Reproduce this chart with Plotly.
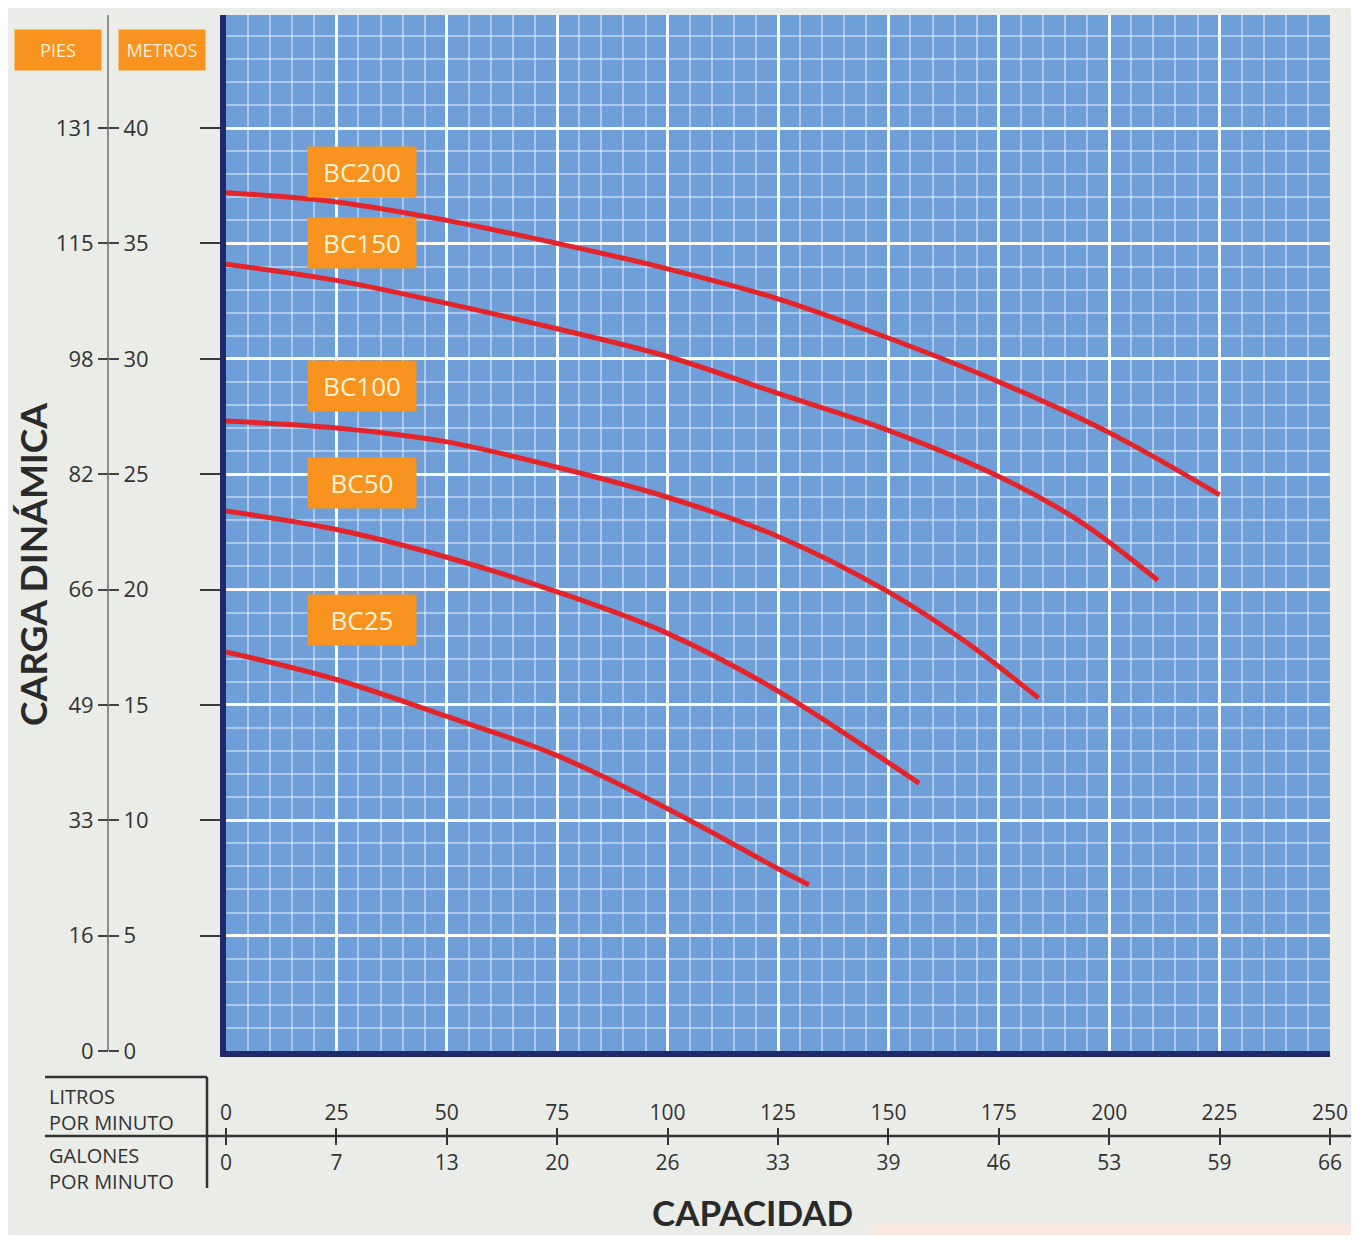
import plotly.graph_objects as go

# ---------------- data (litros por minuto -> metros) ----------------
bc200_lpm = [0, 25, 50, 75, 100, 125, 150, 175, 200, 225]
bc200_m = [37.2, 36.8, 36.0, 35.0, 33.9, 32.6, 30.9, 29.0, 26.8, 24.1]

bc150_lpm = [0, 25, 50, 75, 100, 125, 150, 175, 193, 211]
bc150_m = [34.1, 33.4, 32.4, 31.3, 30.1, 28.5, 26.9, 24.9, 23.0, 20.4]

bc100_lpm = [0, 25, 50, 75, 100, 125, 150, 167, 184]
bc100_m = [27.3, 27.0, 26.4, 25.3, 24.0, 22.3, 19.9, 17.8, 15.3]

bc50_lpm = [0, 25, 50, 75, 100, 125, 150, 157]
bc50_m = [23.4, 22.6, 21.4, 19.9, 18.1, 15.6, 12.5, 11.6]

bc25_lpm = [0, 25, 50, 75, 100, 125, 132]
bc25_m = [17.3, 16.1, 14.5, 12.8, 10.5, 7.9, 7.2]

series_names = ["BC200", "BC150", "BC100", "BC50", "BC25"]

metros_ticks = [0, 5, 10, 15, 20, 25, 30, 35, 40]
metros_labels = ["0", "5", "10", "15", "20", "25", "30", "35", "40"]
pies_labels = ["0", "16", "33", "49", "66", "82", "98", "115", "131"]

lpm_ticks = [0, 25, 50, 75, 100, 125, 150, 175, 200, 225, 250]
lpm_labels = ["0", "25", "50", "75", "100", "125", "150", "175", "200", "225", "250"]
gpm_labels = ["0", "7", "13", "20", "26", "33", "39", "46", "53", "59", "66"]

# ---------------- layout helpers ----------------
OFF = 8                      # page body margin
W, H = 1359 - 2 * OFF, 1243 - 2 * OFF
def px(x):
    return (x - OFF) / W
def py(y):
    return 1 - (y - OFF) / H

BG = "#eaece7"
BLUE = "#6e9fd9"
NAVY = "#1f2a6b"
RED = "#e3252b"
ORANGE = "#f7931e"
TXT = "#333333"
FONT = "Open Sans"

fig = go.Figure()

xs = [bc200_lpm, bc150_lpm, bc100_lpm, bc50_lpm, bc25_lpm]
ys = [bc200_m, bc150_m, bc100_m, bc50_m, bc25_m]
for name, x, y in zip(series_names, xs, ys):
    fig.add_trace(go.Scatter(x=x, y=y, name=name, mode="lines",
                             line=dict(color=RED, width=5, shape="spline", smoothing=1.0),
                             showlegend=False, hoverinfo="x+y+name"))

# dummy traces to activate the auxiliary scales
for xa, ya in [("x", "y2"), ("x", "y3"), ("x2", "y"), ("x3", "y")]:
    fig.add_trace(go.Scatter(x=[None], y=[None], xaxis=xa, yaxis=ya,
                             showlegend=False, hoverinfo="skip"))

yr = [0, 44.9]
xr = [0, 250]
xdom = [px(226), px(1330)]
ydom = [py(1051), py(15)]

fig.update_layout(
    width=W, height=H, autosize=False,
    margin=dict(l=0, r=0, t=0, b=0, autoexpand=False),
    paper_bgcolor=BG, plot_bgcolor=BLUE,
    font=dict(family=FONT, color=TXT),
    xaxis=dict(domain=xdom, range=xr, anchor="y", automargin=False,
               tickmode="linear", tick0=0, dtick=25,
               showgrid=True, gridcolor="rgba(255,255,255,0.95)", gridwidth=3,
               minor=dict(tickmode="linear", tick0=0, dtick=5, showgrid=True,
                          gridcolor="rgba(255,255,255,0.42)", gridwidth=1.5),
               showline=True, linecolor=NAVY, linewidth=6,
               showticklabels=False, ticks="", zeroline=False, fixedrange=True),
    yaxis=dict(domain=ydom, range=yr, anchor="x", automargin=False,
               tickmode="array", tickvals=metros_ticks[1:],
               showgrid=True, gridcolor="rgba(255,255,255,0.95)", gridwidth=3,
               minor=dict(tickmode="linear", tick0=0, dtick=1, showgrid=True,
                          gridcolor="rgba(255,255,255,0.42)", gridwidth=1.5),
               showline=True, linecolor=NAVY, linewidth=6,
               ticks="outside", ticklen=20, tickwidth=2, tickcolor="#3a3a3a",
               showticklabels=False, zeroline=False, fixedrange=True),
    yaxis2=dict(overlaying="y", anchor="free", position=px(108), side="right", automargin=False,
                range=yr, tickmode="array", tickvals=metros_ticks, ticktext=metros_labels,
                showline=True, linecolor="#8c8c8c", linewidth=2,
                ticks="outside", ticklen=10, tickwidth=2, tickcolor="#444444",
                showgrid=False, zeroline=False, tickfont=dict(size=22, color=TXT, family=FONT)),
    yaxis3=dict(overlaying="y", anchor="free", position=px(108), side="left", automargin=False,
                range=yr, tickmode="array", tickvals=metros_ticks, ticktext=pies_labels,
                showline=False,
                ticks="outside", ticklen=10, tickwidth=2, tickcolor="#444444",
                showgrid=False, zeroline=False, tickfont=dict(size=22, color=TXT, family=FONT)),
    xaxis2=dict(overlaying="x", anchor="free", position=py(1136), side="top", automargin=False,
                range=xr, tickmode="array", tickvals=lpm_ticks, ticktext=lpm_labels,
                showline=False, ticks="outside", ticklen=8, tickwidth=2, tickcolor="#333333",
                showgrid=False, zeroline=False, tickfont=dict(size=21, color=TXT, family=FONT)),
    xaxis3=dict(overlaying="x", anchor="free", position=py(1136), side="bottom", automargin=False,
                range=xr, tickmode="array", tickvals=lpm_ticks, ticktext=gpm_labels,
                showline=False, ticks="outside", ticklen=8, tickwidth=2, tickcolor="#333333",
                showgrid=False, zeroline=False, tickfont=dict(size=21, color=TXT, family=FONT)),
)

# ---------------- shapes (table frame under the chart) ----------------
shapes = [
    dict(type="rect", xref="paper", yref="paper", x0=px(870), x1=1, y0=0, y1=py(1224),
         fillcolor="#f9e8df", line=dict(width=0), layer="below"),
    dict(type="line", xref="paper", yref="paper", x0=px(45), x1=1, y0=py(1136), y1=py(1136),
         line=dict(color="#333333", width=2.5)),
    dict(type="line", xref="paper", yref="paper", x0=px(207), x1=px(207), y0=py(1077), y1=py(1188),
         line=dict(color="#333333", width=2.5)),
    dict(type="line", xref="paper", yref="paper", x0=px(45), x1=px(207), y0=py(1077), y1=py(1077),
         line=dict(color="#333333", width=2.5)),
]
fig.update_layout(shapes=shapes)

# ---------------- annotations ----------------
ann = []
label_y = [38.1, 35.0, 28.8, 24.6, 18.7]
for name, ly in zip(series_names, label_y):
    ann.append(dict(x=30.8, y=ly, xref="x", yref="y", text=name, showarrow=False,
                    font=dict(size=26, color="#fff4dc", family=FONT),
                    bgcolor=ORANGE, width=100, height=42, borderpad=4,
                    xanchor="center", yanchor="middle"))

for txt, cx in [("PIES", 58), ("METROS", 162)]:
    ann.append(dict(x=px(cx), y=py(50), xref="paper", yref="paper", text=txt, showarrow=False,
                    font=dict(size=18, color="#fff0d8", family=FONT),
                    bgcolor=ORANGE, width=80, height=34, borderpad=3,
                    xanchor="center", yanchor="middle"))

for txt, yy in [("LITROS<br>POR MINUTO", 1109), ("GALONES<br>POR MINUTO", 1168)]:
    ann.append(dict(x=px(47), y=py(yy), xref="paper", yref="paper", text=txt, showarrow=False,
                    font=dict(size=20, color=TXT, family=FONT), align="left",
                    xanchor="left", yanchor="middle"))

ann.append(dict(x=px(32), y=py(565), xref="paper", yref="paper", text="CARGA DINÁMICA",
                showarrow=False, textangle=-90,
                font=dict(size=37, color="#2a2a2a", family="Lato", weight=700),
                xanchor="center", yanchor="middle"))
ann.append(dict(x=px(752), y=py(1212), xref="paper", yref="paper", text="CAPACIDAD",
                showarrow=False,
                font=dict(size=35, color="#2a2a2a", family="Lato", weight=700),
                xanchor="center", yanchor="middle"))

fig.update_layout(annotations=ann)

fig.write_html("out.html")
